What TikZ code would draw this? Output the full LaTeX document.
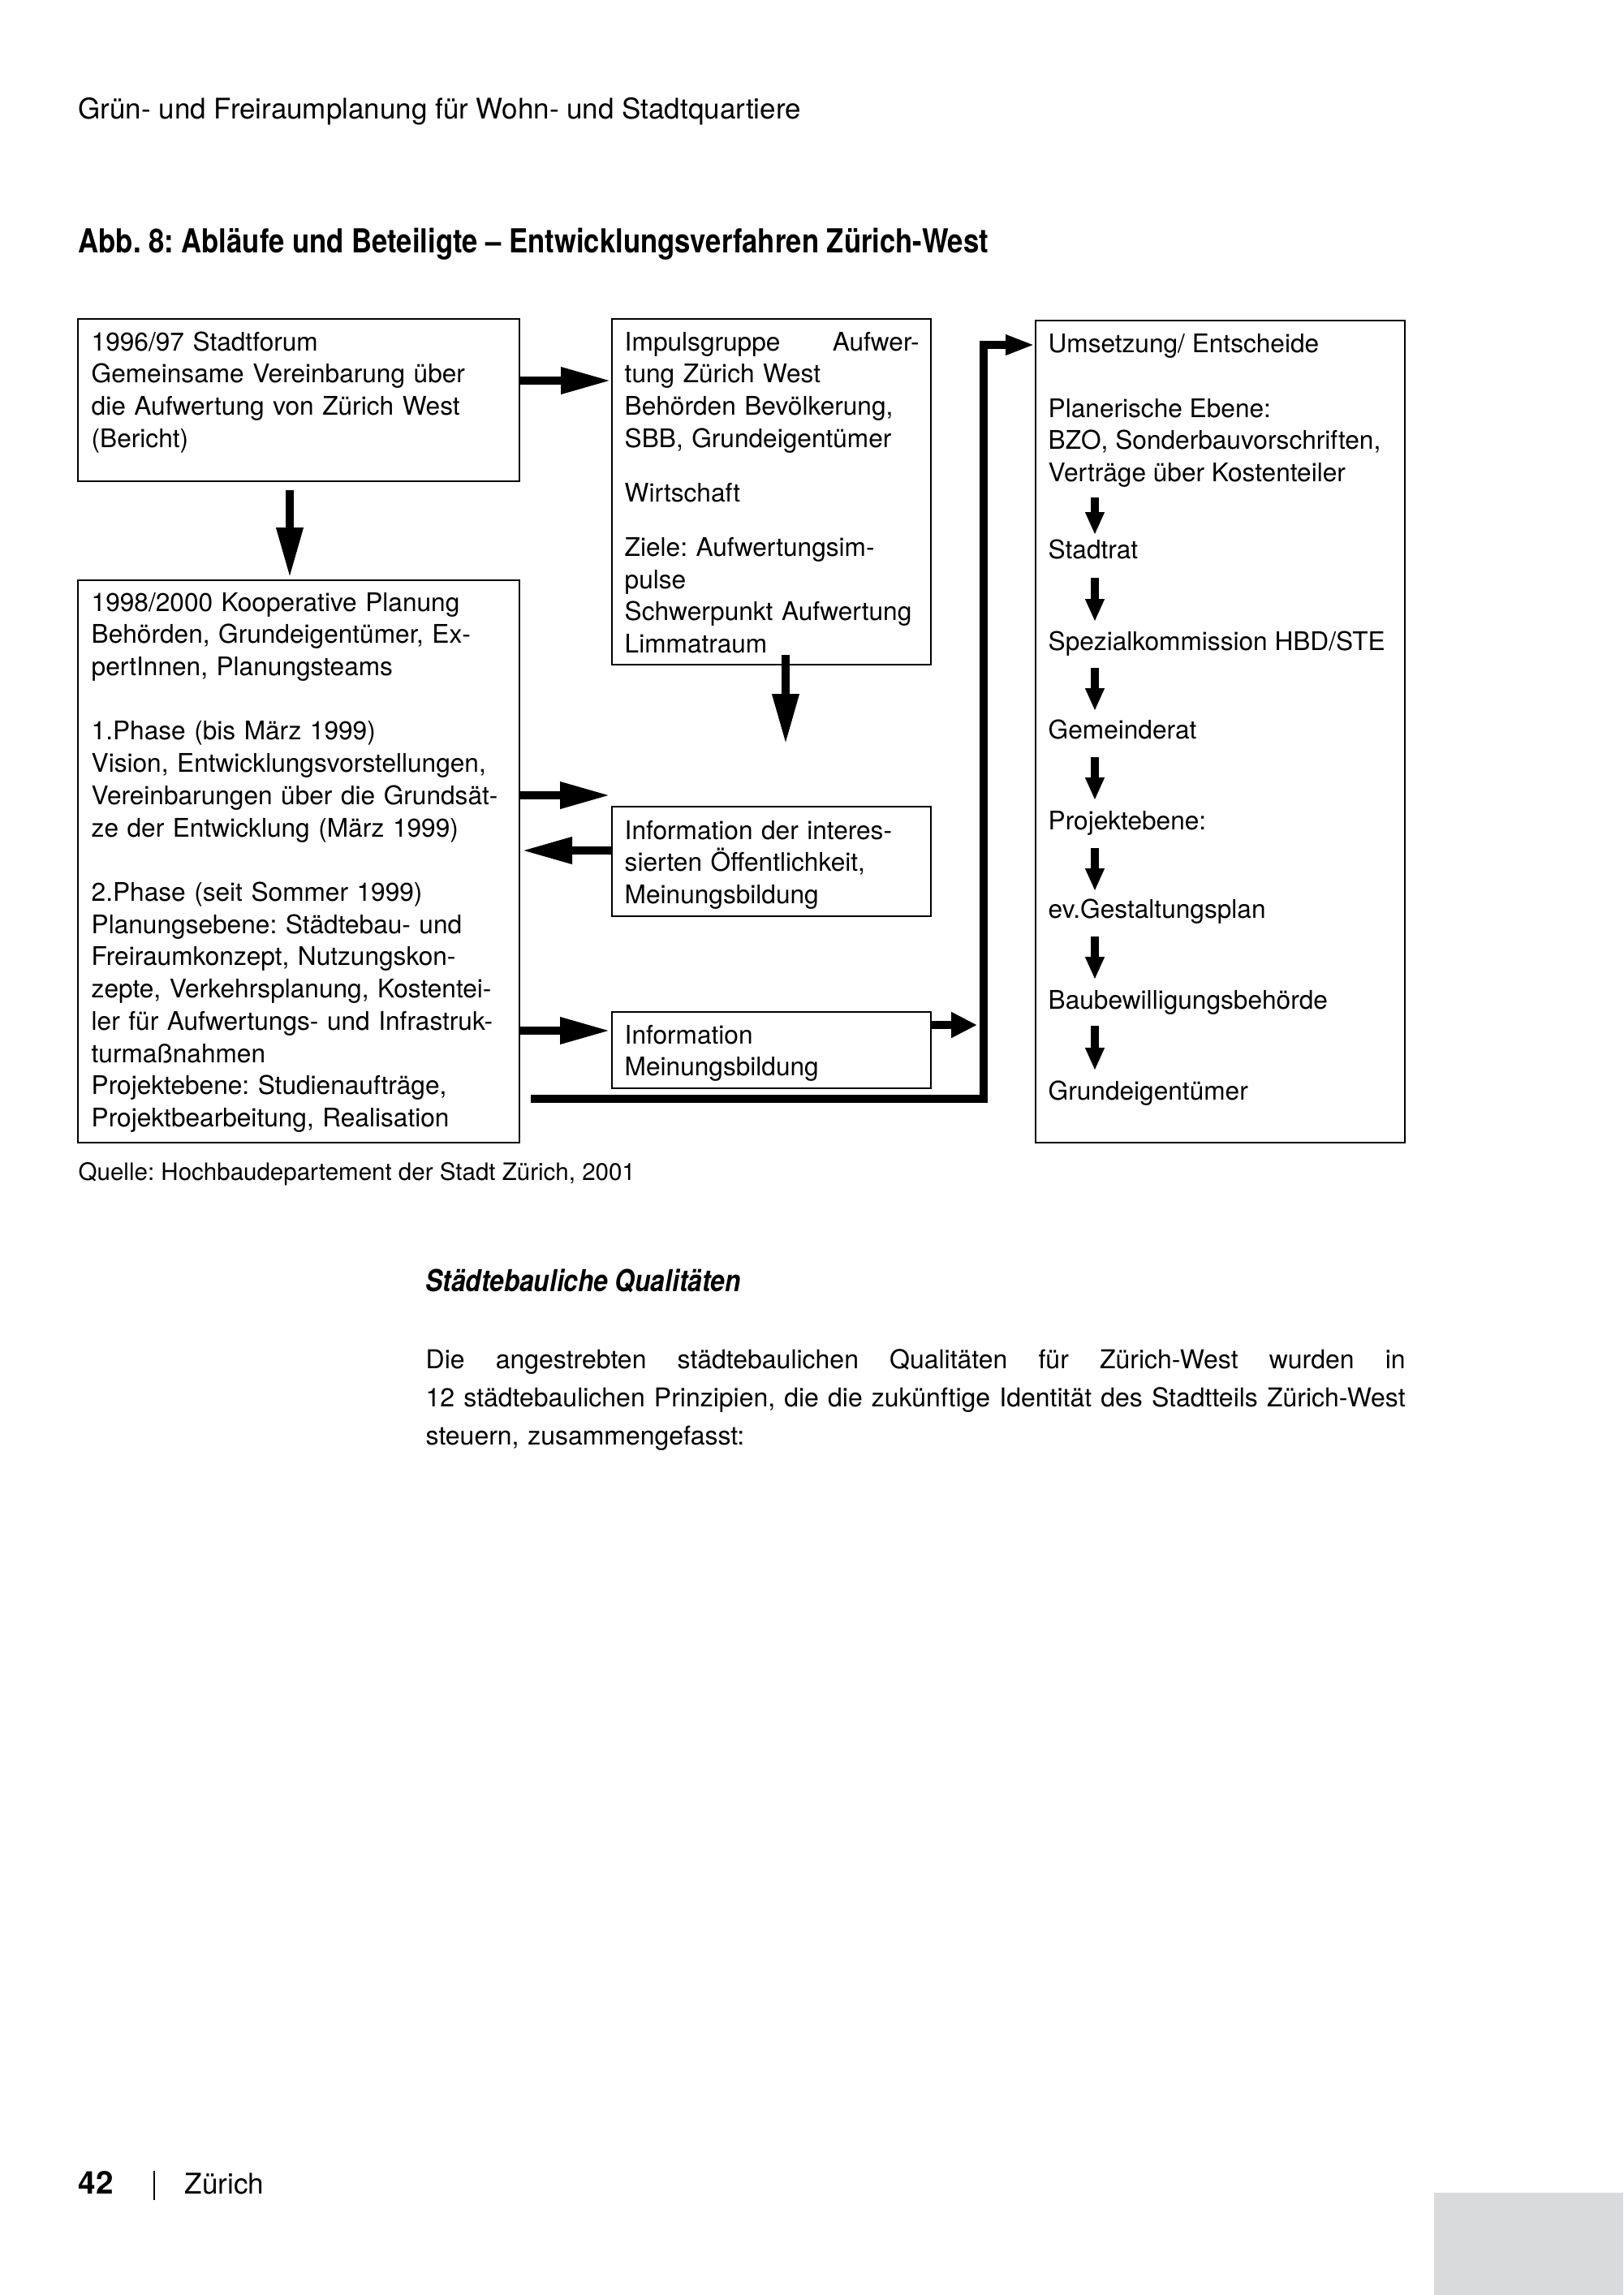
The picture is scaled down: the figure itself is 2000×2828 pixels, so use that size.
\documentclass[tikz,border=0pt]{standalone}
\usepackage{fontspec}
\setmainfont{TeX Gyre Heros}
\newfontfamily\condfont[FakeStretch=0.85]{TeX Gyre Heros}
\usetikzlibrary{arrows.meta,calc,fit}
\definecolor{pagegrey}{HTML}{D9DADB}
\frenchspacing
\begin{document}
\begin{tikzpicture}[x=0.1mm,y=-0.1mm,
  box/.style={draw, line width=0.2mm, inner sep=0pt, rectangle},
  txt/.style={anchor=base west, inner sep=0pt, align=left, font=\fontsize{9pt}{11.3pt}\selectfont\frenchspacing},
  lbl/.style={anchor=base west, inner sep=0pt, font=\fontsize{9pt}{11.3pt}\selectfont\frenchspacing},
  bigarrow/.style={line width=1mm, -{Triangle[length=6.2mm,width=3.1mm]}},
  midarrow/.style={line width=1mm, -{Triangle[length=3.2mm,width=3mm]}},
  entryarrow/.style={line width=1mm, -{Triangle[length=3.6mm,width=2.3mm]}},
  smallarrow/.style={line width=1mm, -{Triangle[length=2.8mm,width=2.2mm]}}
]
\useasboundingbox (0,0) rectangle (2000,2828);
\fill[white] (0,0) rectangle (2000,2828);
\fill[pagegrey] (1767,2702) rectangle (2000,2828);

% page texts
\node[lbl, font=\fontsize{9.95pt}{12pt}\selectfont\frenchspacing] (head) at (96,146) {Grün- und Freiraumplanung für Wohn- und Stadtquartiere};
\node[lbl, font=\fontsize{11.6pt}{13pt}\condfont\bfseries\frenchspacing] (title) at (96,311) {Abb. 8: Abläufe und Beteiligte – Entwicklungsverfahren Zürich-West};

% boxes
\node[box, fit={(96,393) (640,593)}] (A) {};
\node[box, fit={(96,715) (640,1408)}] (B) {};
\node[box, fit={(754,393) (1147,819)}] (C) {};
\node[box, fit={(754,994) (1147,1129)}] (D) {};
\node[box, fit={(754,1247) (1147,1341)}] (E) {};
\node[box, fit={(1276,395) (1731,1408)}] (F) {};

% box texts
\node[txt, text width=60mm] (tA) at (112,432) {1996/97 Stadtforum\\Gemeinsame Vereinbarung über\\die Aufwertung von Zürich West\\(Bericht)};
\node[txt, text width=60mm] (tB) at (112,753) {1998/2000 Kooperative Planung\\Behörden, Grundeigentümer, Ex-\\pertInnen, Planungsteams\\[11.3pt]1.Phase (bis März 1999)\\Vision, Entwicklungsvorstellungen,\\Vereinbarungen über die Grundsät-\\ze der Entwicklung (März 1999)\\[11.3pt]2.Phase (seit Sommer 1999)\\Planungsebene: Städtebau- und\\Freiraumkonzept, Nutzungskon-\\zepte, Verkehrsplanung, Kostentei-\\ler für Aufwertungs- und Infrastruk-\\turmaßnahmen\\Projektebene: Studienaufträge,\\Projektbearbeitung, Realisation};
\node[txt, text width=45mm] (tC) at (769,432) {\makebox[36.3mm][l]{Impulsgruppe\hfill Aufwer-}\\tung Zürich West\\Behörden Bevölkerung,\\SBB, Grundeigentümer\\[7.8pt]Wirtschaft\\[7.8pt]Ziele: Aufwertungsim-\\pulse\\Schwerpunkt Aufwertung\\Limmatraum};
\node[txt, text width=45mm] (tD) at (769,1034) {Information der interes-\\sierten Öffentlichkeit,\\Meinungsbildung};
\node[txt, text width=45mm] (tE) at (769,1286) {Information\\Meinungsbildung};

\node[lbl] (f0) at (1291,434) {Umsetzung/ Entscheide};
\node[lbl] (f1) at (1291,514) {Planerische Ebene:};
\node[lbl] (f2) at (1291,553) {BZO, Sonderbauvorschriften,};
\node[lbl] (f3) at (1291,593) {Verträge über Kostenteiler};
\node[lbl] (f4) at (1291,688) {Stadtrat};
\node[lbl] (f5) at (1291,801) {Spezialkommission HBD/STE};
\node[lbl] (f6) at (1291,910) {Gemeinderat};
\node[lbl] (f7) at (1291,1022) {Projektebene:};
\node[lbl] (f8) at (1291,1131) {ev.Gestaltungsplan};
\node[lbl] (f9) at (1291,1243) {Baubewilligungsbehörde};
\node[lbl] (f10) at (1291,1355) {Grundeigentümer};

% helper coordinates
\coordinate (colA) at (357,0);
\coordinate (colC) at (968,0);
\coordinate (Ctip) at (968,917);
\coordinate (colF) at (1349,0);
\coordinate (vl) at (1212,0);
\coordinate (rAC) at (0,469);
\coordinate (rBD) at (0,980);
\coordinate (rDB) at (0,1048);
\coordinate (rBE) at (0,1270);
\coordinate (rE) at (0,1263);
\coordinate (rB) at (0,1354);
\coordinate (rF) at (0,425);

% connectors
\draw[bigarrow] (A.east |- rAC) -- (C.west |- rAC);
\draw[bigarrow, shorten <=1mm, shorten >=0.2mm] (A.south -| colA) -- (B.north -| colA);
\draw[bigarrow, shorten <=-1.3mm] (C.south -| colC) -- (Ctip);
\draw[bigarrow, shorten >=0.1mm] (B.east |- rBD) -- (D.west |- rBD);
\draw[bigarrow, shorten >=0.2mm] (D.west |- rDB) -- (B.east |- rDB);
\draw[bigarrow, shorten >=0.1mm] (B.east |- rBE) -- (E.west |- rBE);
\draw[midarrow, shorten >=0.8mm] (E.east |- rE) -- (vl |- rE);
\draw[entryarrow, shorten <=1.3mm] (B.east |- rB) -| (vl |- rF) -- (F.west |- rF);

\draw[smallarrow] ($(f3.base -| colF)+(0,20)$) -- ($(f4.base -| colF)+(0,-29)$);
\draw[smallarrow] ($(f4.base -| colF)+(0,24)$) -- ($(f5.base -| colF)+(0,-35)$);
\draw[smallarrow] ($(f5.base -| colF)+(0,22)$) -- ($(f6.base -| colF)+(0,-34)$);
\draw[smallarrow] ($(f6.base -| colF)+(0,23)$) -- ($(f7.base -| colF)+(0,-36)$);
\draw[smallarrow] ($(f7.base -| colF)+(0,23)$) -- ($(f8.base -| colF)+(0,-33)$);
\draw[smallarrow] ($(f8.base -| colF)+(0,23)$) -- ($(f9.base -| colF)+(0,-36)$);
\draw[smallarrow] ($(f9.base -| colF)+(0,21)$) -- ($(f10.base -| colF)+(0,-36)$);

% source, section text
\node[lbl, font=\fontsize{8.4pt}{10pt}\selectfont\frenchspacing] (src) at (96,1454) {Quelle: Hochbaudepartement der Stadt Zürich, 2001};
\node[lbl, font=\fontsize{10.6pt}{12pt}\condfont\bfseries\itshape\frenchspacing] (sub) at (524,1591) {Städtebauliche Qualitäten};
\node[txt, text width=120.7mm, font=\fontsize{9.1pt}{13.38pt}\selectfont\frenchspacing] (body) at (524,1686) {\makebox[120.7mm][l]{Die \hfill angestrebten \hfill städtebaulichen \hfill Qualitäten \hfill für \hfill Zürich-West \hfill wurden \hfill in}\\\makebox[120.7mm][l]{12 \hfill städtebaulichen \hfill Prinzipien, \hfill die \hfill die \hfill zukünftige \hfill Identität \hfill des \hfill Stadtteils \hfill Zürich-West}\\steuern, zusammengefasst:};

% footer
\node[lbl, font=\fontsize{11pt}{13pt}\selectfont\bfseries] (pnum) at (96,2703) {42};
\draw[line width=0.12mm] (190,2675) -- (190,2711);
\node[lbl, font=\fontsize{10pt}{12pt}\selectfont] (foot) at (227,2703) {Zürich};
\end{tikzpicture}
\end{document}
